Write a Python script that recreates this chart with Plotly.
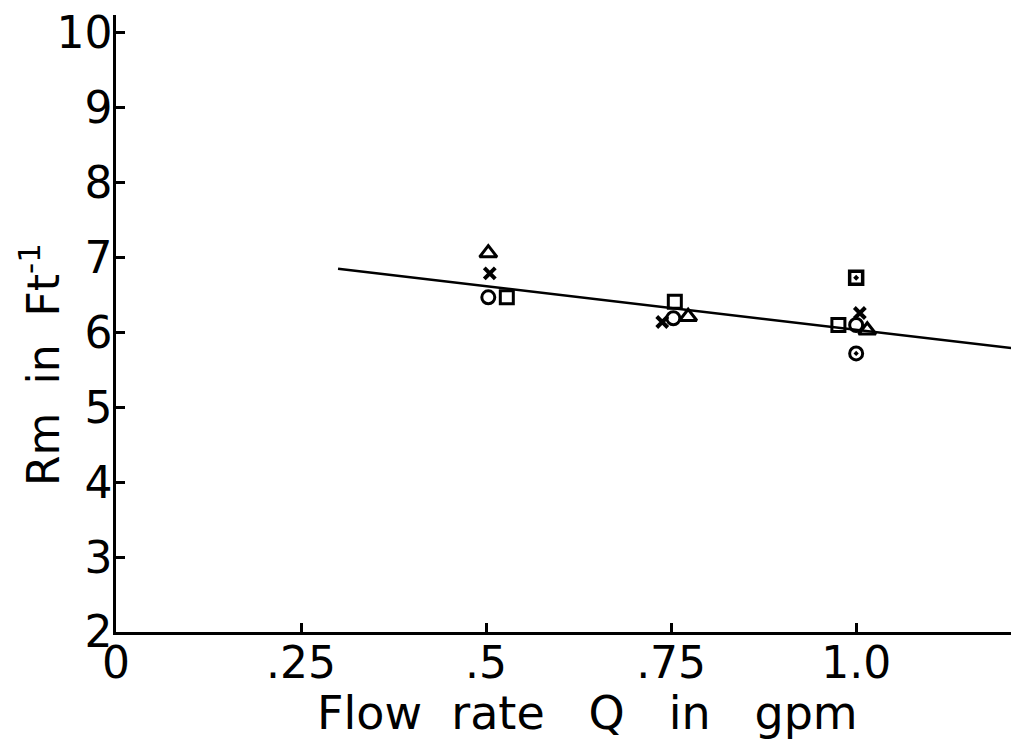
import plotly.graph_objects as go

# ---- data ----
tri_x = [0.503, 0.773, 1.015]
tri_y = [7.06, 6.21, 6.03]
cross_x = [0.505, 0.738, 1.005]
cross_y = [6.79, 6.14, 6.26]
circ_x = [0.503, 0.753, 1.000]
circ_y = [6.47, 6.19, 6.10]
sq_x = [0.528, 0.755, 0.976]
sq_y = [6.47, 6.41, 6.10]
sqdot_x = [1.000]
sqdot_y = [6.73]
circdot_x = [1.000]
circdot_y = [5.72]
fit_x = [0.30, 1.22]
fit_y = [6.85, 5.78]

x_tickvals = [0, 0.25, 0.5, 0.75, 1.0]
x_ticktext = ["0", ".25", ".5", ".75", "1.0"]
y_tickvals = [2, 3, 4, 5, 6, 7, 8, 9, 10]
y_ticktext = [str(v) for v in y_tickvals]

FONT = "DejaVu Sans"
BLACK = "black"

fig = go.Figure()
fig.add_trace(go.Scatter(x=fit_x, y=fit_y, mode="lines",
                         line=dict(color=BLACK, width=2.5), showlegend=False))

def pts(x, y, symbol, size, lw=2.5):
    fig.add_trace(go.Scatter(x=x, y=y, mode="markers", showlegend=False,
                             marker=dict(symbol=symbol, size=size, color=BLACK,
                                         line=dict(color=BLACK, width=lw))))

pts(tri_x, tri_y, "triangle-up-open", 15, 3)
pts(cross_x, cross_y, "x-thin-open", 11, 4)
pts(circ_x, circ_y, "circle-open", 13, 3)
pts(sq_x, sq_y, "square-open", 13, 3)
pts(sqdot_x, sqdot_y, "square-open-dot", 13, 3.5)
pts(circdot_x, circdot_y, "circle-open-dot", 13, 3)

axis_common = dict(showgrid=False, zeroline=False, showline=True, automargin=False,
                   linecolor=BLACK, linewidth=2.5, ticks="inside", ticklen=9,
                   tickwidth=2.5, tickcolor=BLACK, ticklabeloverflow="allow",
                   tickfont=dict(family=FONT, size=44, color=BLACK))

# margins compensate for the 8px default page body margin
fig.update_layout(
    width=1019, height=744,
    margin=dict(l=108, r=8, t=7, b=120),
    plot_bgcolor="white", paper_bgcolor="white",
    font=dict(family=FONT, size=46, color=BLACK),
    xaxis=dict(range=[0, 1.22], tickvals=x_tickvals, ticktext=x_ticktext,
               ticklabelstandoff=-10, **axis_common),
    yaxis=dict(range=[2, 10.24], tickvals=y_tickvals, ticktext=y_ticktext,
               ticklabelstandoff=-8, **axis_common),
    annotations=[
        dict(text="Flow\u00a0\u00a0rate\u00a0\u00a0\u00a0Q\u00a0\u00a0\u00a0in\u00a0\u00a0\u00a0gpm",
             xref="paper", yref="paper", x=0.5216, y=-0.131,
             xanchor="center", yanchor="middle", showarrow=False,
             font=dict(family=FONT, size=46, color=BLACK)),
        dict(text="Rm\u00a0\u00a0in\u00a0\u00a0Ft<sup>-1</sup>",
             xref="paper", yref="paper", x=-0.084, y=0.433,
             xanchor="center", yanchor="middle", textangle=-90, showarrow=False,
             font=dict(family=FONT, size=44, color=BLACK)),
    ],
)

fig.write_html("out.html")
